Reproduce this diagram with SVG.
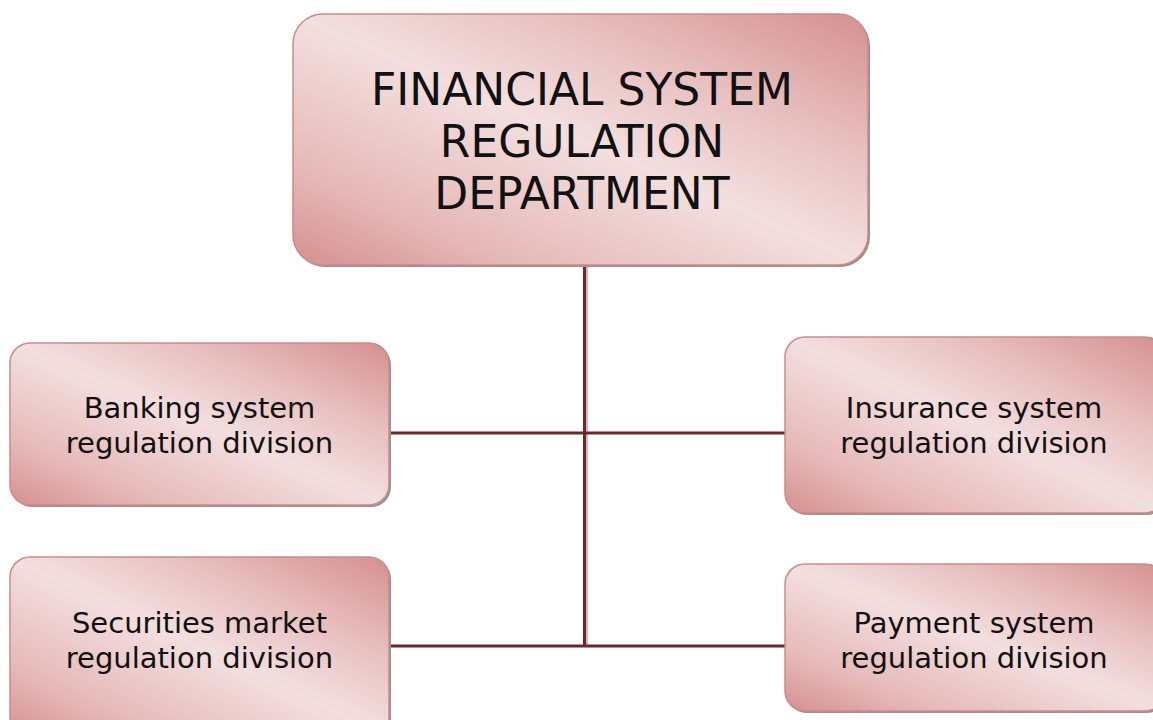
<svg xmlns="http://www.w3.org/2000/svg" width="1153" height="720" viewBox="0 0 1153 720">
<defs>
<linearGradient id="g" x1="0" y1="1" x2="1" y2="0">
<stop offset="0" stop-color="#d68f8f"/>
<stop offset="0.2" stop-color="#e6b9b9"/>
<stop offset="0.5" stop-color="#f3dfdf"/>
<stop offset="0.72" stop-color="#e8c0c0"/>
<stop offset="1" stop-color="#d68f8f"/>
</linearGradient>
<style>
.box{fill:url(#g);stroke:#cc8a8a;stroke-width:1.5}
.sh{fill:#9a9090}
.t{font-family:"DejaVu Sans",Verdana,sans-serif;fill:#111;text-anchor:middle}
.big{font-size:44px}
.sm{font-size:29px}
.c{stroke:#6b2828;stroke-width:3;fill:none}
.cs{stroke:#e2b5b5;stroke-width:2;fill:none}
</style>
</defs>
<rect width="1153" height="720" fill="#fff"/>
<g id="connectors">
<line class="cs" x1="587" y1="266" x2="587" y2="646"/>
<line class="c" x1="584.5" y1="264" x2="584.5" y2="647"/>
<line class="c" x1="390" y1="433" x2="786" y2="433"/>
<line class="c" x1="390" y1="646" x2="786" y2="646"/>
</g>
<g id="top">
<rect class="sh" x="295" y="16" width="575" height="251" rx="30"/>
<rect class="box" x="293" y="14" width="575" height="251" rx="30"/>
<text class="t big" x="582" y="105">FINANCIAL SYSTEM</text>
<text class="t big" x="582" y="157">REGULATION</text>
<text class="t big" x="582" y="209">DEPARTMENT</text>
</g>
<g id="banking">
<rect class="sh" x="12" y="345" width="379" height="162" rx="20"/>
<rect class="box" x="10" y="343" width="379" height="162" rx="20"/>
<text class="t sm" x="199.5" y="418">Banking system</text>
<text class="t sm" x="199.5" y="453">regulation division</text>
</g>
<g id="insurance">
<rect class="sh" x="787" y="339" width="380" height="176" rx="20"/>
<rect class="box" x="785" y="337" width="380" height="176" rx="20"/>
<text class="t sm" x="974" y="418">Insurance system</text>
<text class="t sm" x="974" y="453">regulation division</text>
</g>
<g id="securities">
<rect class="sh" x="12" y="559" width="379" height="180" rx="20"/>
<rect class="box" x="10" y="557" width="379" height="180" rx="20"/>
<text class="t sm" x="199.5" y="633">Securities market</text>
<text class="t sm" x="199.5" y="668">regulation division</text>
</g>
<g id="payment">
<rect class="sh" x="787" y="566" width="380" height="147" rx="20"/>
<rect class="box" x="785" y="564" width="380" height="147" rx="20"/>
<text class="t sm" x="974" y="633">Payment system</text>
<text class="t sm" x="974" y="668">regulation division</text>
</g>
</svg>
